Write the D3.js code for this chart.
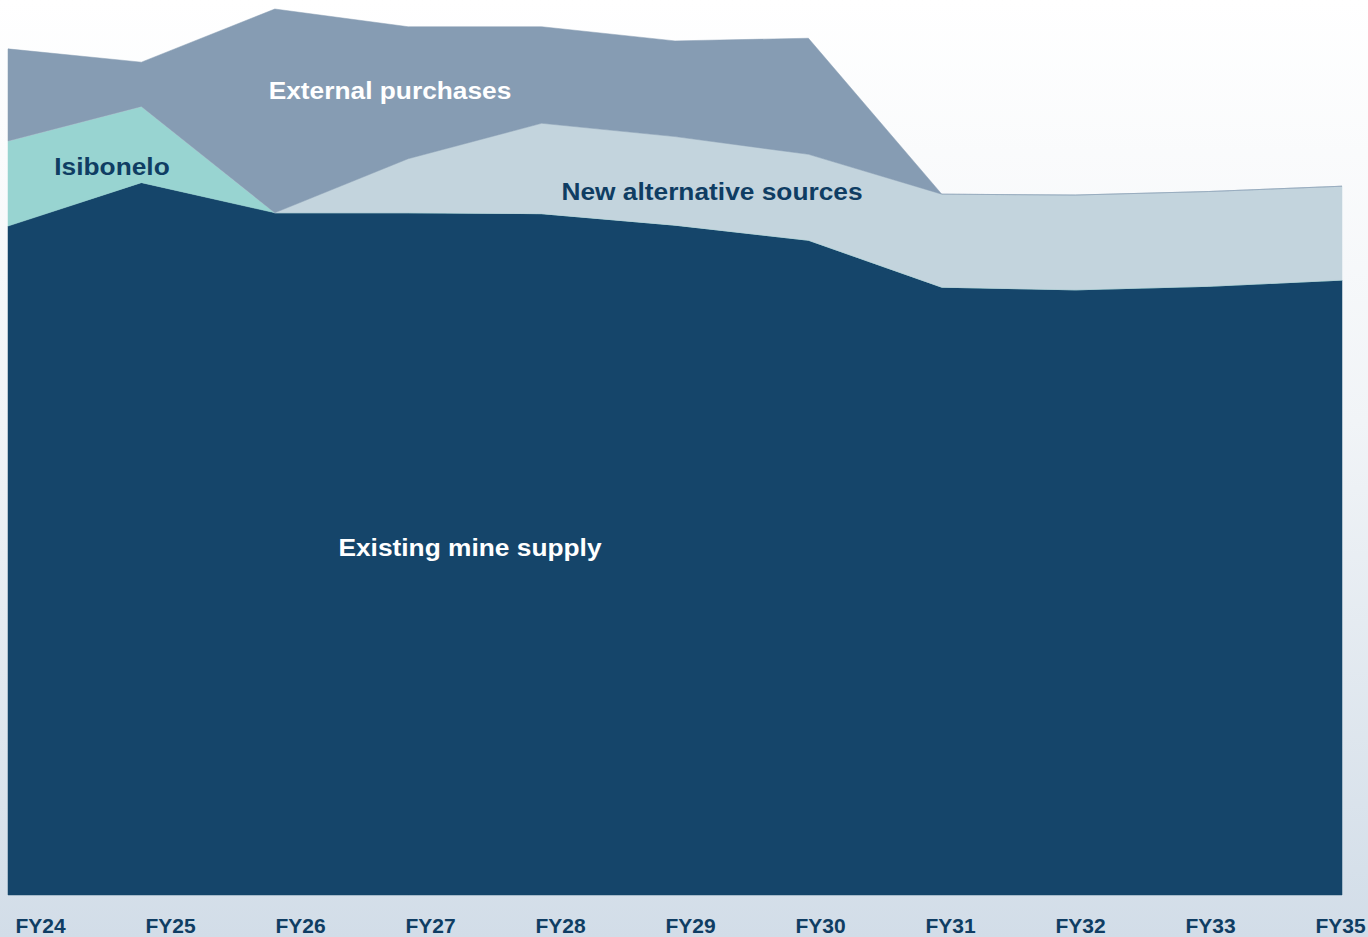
<!DOCTYPE html>
<html>
<head>
<meta charset="utf-8">
<script src="https://cdn.jsdelivr.net/npm/d3@7"></script>
<style>
  html, body { margin: 0; padding: 0; overflow: hidden; }
  svg { display: block; }
</style>
</head>
<body>
<svg id="chart"></svg>
<script>
(function(){

	//Data
	var years = ["FY24", "FY25", "FY26", "FY27", "FY28", "FY29", "FY30", "FY31", "FY32", "FY33", "FY34"];
	var tickLabels = ["FY24", "FY25", "FY26", "FY27", "FY28", "FY29", "FY30", "FY31", "FY32", "FY33", "FY35"];
	var existingMine = [75.5, 80.4, 77.0, 77.0, 76.9, 75.6, 73.9, 68.6, 68.3, 68.7, 69.4];
	var isibonelo    = [9.6, 8.6, 0, 0, 0, 0, 0, 0, 0, 0, 0];
	var newAlt       = [0, 0, 0, 6.1, 10.2, 10.0, 9.7, 10.5, 10.7, 10.7, 10.6];
	var external     = [10.4, 5.0, 23.0, 14.9, 10.9, 10.8, 13.1, 0, 0, 0, 0];
	var seriesKeys = ["existing", "isibonelo", "newAlt", "external"];

	//SVG Configurations
	var svgWidth = 1368;
	var svgHeight = 937;
	var plotLeft = 8, plotRight = 1342, plotBottom = 895, plotTop = 9;
	var colors = {
		existing: "#15456a",
		isibonelo: "#98d4d1",
		newAlt: "#c3d4dd",
		external: "#869cb3"
	};
	var navy = "#0f3d63";
	var font = "'Liberation Sans', Arial, sans-serif";

	var svg = d3.select("#chart")
	.attr("width", svgWidth)
	.attr("height", svgHeight);

	//background gradient
	var grad = svg.append("defs").append("linearGradient")
	.attr("id", "bgGrad")
	.attr("x1", 0).attr("y1", 0).attr("x2", 0).attr("y2", 1);
	grad.append("stop").attr("offset", "0%").attr("stop-color", "#ffffff");
	grad.append("stop").attr("offset", "45%").attr("stop-color", "#f1f4f7");
	grad.append("stop").attr("offset", "100%").attr("stop-color", "#d2dde8");
	svg.append("rect")
	.attr("width", svgWidth)
	.attr("height", svgHeight)
	.attr("fill", "url(#bgGrad)");

	var table = years.map(function(y, i){
		return {year: y, existing: existingMine[i], isibonelo: isibonelo[i], newAlt: newAlt[i], external: external[i]};
	});

	var x = d3.scalePoint().domain(years).range([plotLeft, plotRight]);
	var y = d3.scaleLinear().domain([0, 100]).range([plotBottom, plotTop]);

	var layers = d3.stack().keys(seriesKeys)(table);

	var area = d3.area()
	.x(function(d){ return x(d.data.year); })
	.y0(function(d){ return y(d[0]); })
	.y1(function(d){ return y(d[1]); });

	svg.append("g")
	.selectAll("path")
	.data(layers)
	.enter()
	.append("path")
	.attr("d", area)
	.attr("fill", function(d){ return colors[d.key]; })
	.attr("stroke", function(d){ return colors[d.key]; })
	.attr("stroke-width", 0.5);

	//x axis labels (spaced on their own band)
	var xLabel = d3.scalePoint().domain(tickLabels).range([40, 1340]);
	var axis = d3.axisBottom(xLabel).tickSize(0).tickPadding(0);
	var axisG = svg.append("g")
	.attr("transform", "translate(0,918)")
	.call(axis);
	axisG.select(".domain").remove();
	axisG.selectAll("text")
	.attr("dy", "0.71em")
	.attr("fill", navy)
	.attr("font-family", font)
	.attr("font-weight", "bold")
	.attr("font-size", "21px");

	//series labels (a touch wide, like the original slide)
	var labels = [
		{text: "External purchases", x: 390, y: 99, fill: "#ffffff"},
		{text: "Isibonelo", x: 112, y: 175, fill: navy},
		{text: "New alternative sources", x: 712, y: 200, fill: navy},
		{text: "Existing mine supply", x: 470, y: 556, fill: "#ffffff"}
	];
	svg.append("g")
	.selectAll("text")
	.data(labels)
	.enter()
	.append("text")
	.attr("transform", function(d){ return "translate(" + d.x + "," + d.y + ") scale(1.12,1)"; })
	.attr("text-anchor", "middle")
	.attr("fill", function(d){ return d.fill; })
	.attr("font-family", font)
	.attr("font-weight", "bold")
	.attr("font-size", "23.5px")
	.text(function(d){ return d.text; });

})();
</script>
</body>
</html>
